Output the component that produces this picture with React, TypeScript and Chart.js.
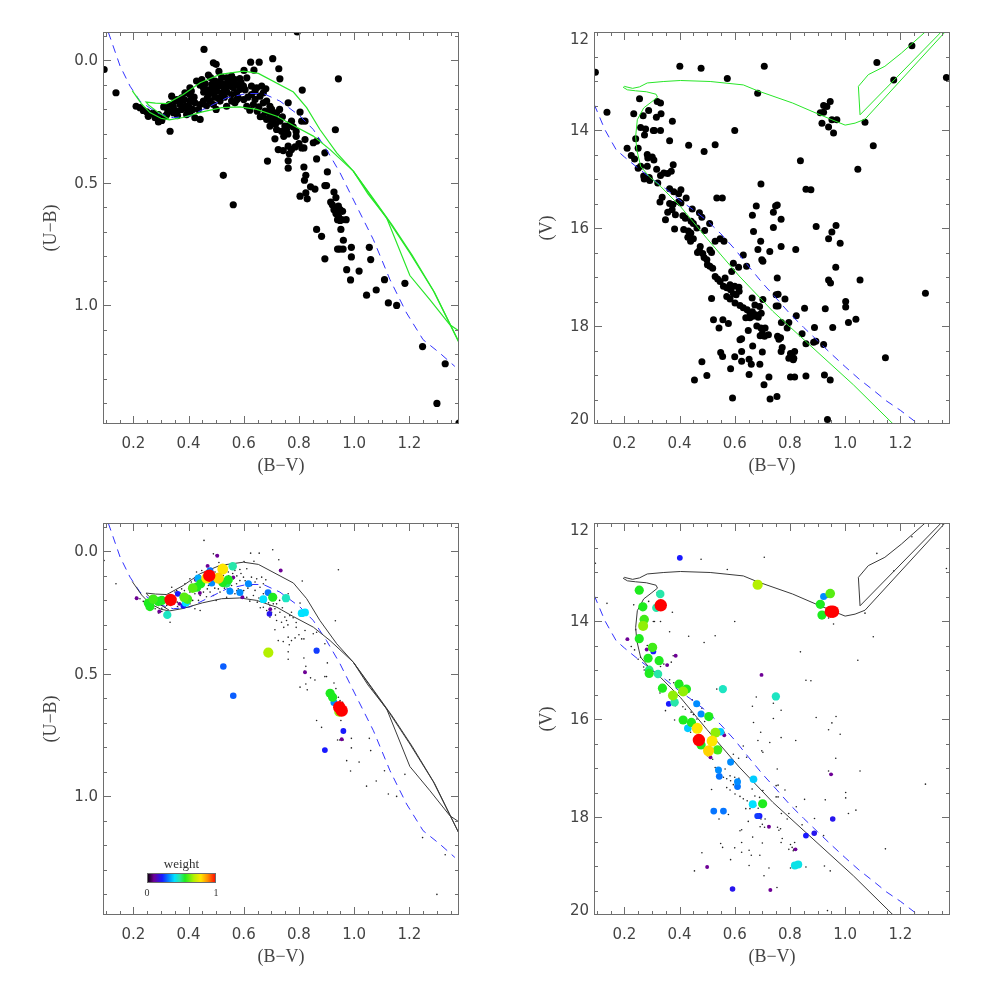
import React, { useEffect, useRef } from 'react';
import { Chart, registerables } from 'chart.js';
Chart.register(...registerables);

type P2 = [number, number];
type P3 = [number, number, number];

// ---------------- axis ranges & tick labels ----------------
const X_MIN = 0.09, X_MAX = 1.38;
const UB_MIN = -0.116, UB_MAX = 1.484;
const V_MIN = 12, V_MAX = 20;
const X_TICK_LABELS = [0.2, 0.4, 0.6, 0.8, 1.0, 1.2];
const UB_TICK_LABELS = [0.0, 0.5, 1.0];
const V_TICK_LABELS = [12, 14, 16, 18, 20];

// ---------------- (U-B) vs (B-V) stars ----------------
const UB_STARS: P2[] = [
  [0.094,0.037],[0.137,0.132],[0.794,-0.116],[0.456,-0.045],[0.49,0.01],[0.5,0.016],[0.625,0.007],[0.656,0.007],
  [0.705,-0.007],[0.727,0.034],[0.637,0.04],[0.731,0.075],[0.943,0.075],[0.812,0.121],[0.761,0.173],[0.804,0.211],
  [0.932,0.283],[0.526,0.469],[0.562,0.589],[0.686,0.411],
  [0.21,0.187],[0.224,0.193],[0.236,0.204],[0.248,0.21],[0.26,0.218],[0.272,0.215],[0.254,0.228],[0.279,0.234],
  [0.303,0.232],[0.321,0.221],[0.291,0.221],[0.303,0.245],[0.333,0.289],[0.291,0.251],[0.315,0.228],[0.33,0.18],
  [0.339,0.146],[0.351,0.166],[0.357,0.16],[0.369,0.18],[0.375,0.153],[0.387,0.132],[0.405,0.139],[0.387,0.187],
  [0.396,0.2],[0.375,0.2],[0.359,0.207],[0.345,0.214],[0.405,0.166],[0.423,0.173],[0.436,0.2],[0.423,0.234],
  [0.442,0.241],[0.405,0.214],[0.393,0.221],[0.405,0.112],[0.429,0.084],[0.442,0.101],[0.448,0.078],[0.454,0.112],
  [0.472,0.06],[0.468,0.153],[0.478,0.166],[0.49,0.18],[0.454,0.166],[0.442,0.18],[0.472,0.139],[0.49,0.132],
  [0.502,0.125],[0.52,0.132],[0.538,0.128],[0.556,0.139],[0.574,0.132],[0.586,0.119],[0.599,0.105],[0.508,0.153],
  [0.496,0.084],[0.484,0.098],[0.508,0.105],[0.526,0.098],[0.55,0.105],[0.562,0.112],[0.52,0.068],[0.538,0.071],
  [0.556,0.064],[0.568,0.078],[0.544,0.084],[0.586,0.074],[0.601,0.041],[0.538,0.187],[0.568,0.173],[0.58,0.153],
  [0.611,0.187],[0.611,0.071],[0.514,0.166],[0.556,0.166],[0.51,0.045],[0.48,0.07],
  [0.31,0.19],[0.325,0.205],[0.345,0.19],[0.36,0.225],[0.37,0.17],[0.385,0.16],[0.4,0.185],[0.415,0.2],
  [0.42,0.15],[0.41,0.125],[0.455,0.13],[0.46,0.095],[0.47,0.12],[0.485,0.115],[0.495,0.15],[0.5,0.1],
  [0.515,0.085],[0.53,0.115],[0.545,0.1],[0.56,0.09],[0.575,0.1],[0.59,0.09],[0.605,0.12],[0.615,0.15],
  [0.6,0.16],[0.575,0.16],[0.53,0.15],[0.465,0.185],[0.5,0.2],
  [0.622,0.203],[0.628,0.139],[0.628,0.105],[0.641,0.125],[0.641,0.159],[0.647,0.112],[0.649,0.207],[0.659,0.146],
  [0.665,0.105],[0.671,0.132],[0.671,0.173],[0.677,0.207],[0.68,0.116],[0.683,0.166],[0.695,0.187],[0.701,0.2],
  [0.671,0.228],[0.683,0.241],[0.695,0.221],[0.707,0.214],[0.719,0.214],[0.701,0.248],[0.713,0.234],[0.731,0.248],
  [0.749,0.268],[0.767,0.262],[0.779,0.271],[0.719,0.282],[0.737,0.289],[0.755,0.282],[0.695,0.268],[0.773,0.248],
  [0.635,0.18],[0.655,0.19],[0.66,0.23],[0.69,0.21],[0.715,0.26],[0.74,0.23],[0.76,0.3],[0.79,0.29],
  [0.79,0.31],[0.8,0.34],[0.745,0.31],[0.73,0.2],
  [0.725,0.364],[0.743,0.368],[0.761,0.35],[0.773,0.364],[0.786,0.353],[0.81,0.357],[0.818,0.357],[0.765,0.381],
  [0.761,0.41],[0.761,0.44],[0.713,0.32],[0.822,0.248],[0.81,0.248],[0.822,0.323],[0.864,0.33],[0.852,0.336],
  [0.864,0.402],[0.894,0.377],[0.903,0.455],[0.818,0.435],[0.825,0.469],[0.82,0.489],[0.842,0.516],[0.858,0.525],
  [0.804,0.554],[0.825,0.541],[0.83,0.565],[0.894,0.511],[0.9,0.511],[0.927,0.537],[0.934,0.56],
  [0.915,0.578],[0.921,0.589],[0.943,0.595],[0.927,0.609],[0.949,0.609],[0.958,0.616],[0.934,0.625],[0.943,0.634],
  [0.955,0.65],[0.971,0.65],[0.94,0.65],[0.949,0.653],[0.952,0.69],[0.961,0.734],[0.864,0.69],[0.882,0.718],
  [0.94,0.77],[0.948,0.77],[0.96,0.77],[0.99,0.763],[1.055,0.763],[0.894,0.81],[0.99,0.802],[1.06,0.813],
  [0.973,0.854],[0.987,0.896],[1.018,0.86],[1.11,0.895],[1.045,0.958],[1.08,0.937],[1.124,0.99],[1.154,1.0],
  [1.184,0.91],[1.248,1.168],[1.33,1.238],[1.3,1.4],[1.38,1.48]
];

// ---------------- V vs (B-V) stars ----------------
const V_STARS: P2[] = [
  [0.095,12.82],[0.137,13.64],[0.401,12.70],[0.478,12.74],[0.573,12.95],[0.707,12.70],[0.683,13.25],[1.242,12.28],
  [1.115,12.62],[1.176,12.98],[1.367,12.93],[1.072,13.84],[1.102,14.32],[1.046,14.80],[0.838,14.63],[0.6,14.01],
  [0.433,14.31],[0.529,14.30],[0.489,14.44],[0.695,15.1],[0.858,15.21],[0.876,15.22],
  [0.922,13.5],[0.934,13.52],[0.946,13.42],[0.91,13.65],[0.922,13.64],[0.952,13.79],[0.97,13.79],[0.94,13.94],
  [0.916,13.86],[0.958,14.06],
  [0.255,13.36],[0.319,13.42],[0.331,13.45],[0.234,13.67],[0.268,13.71],[0.288,13.60],[0.316,13.74],[0.333,13.67],
  [0.374,13.82],[0.259,13.95],[0.277,13.98],[0.273,14.1],[0.305,14.01],[0.309,14.01],[0.331,14.01],[0.241,14.18],
  [0.364,14.22],[0.21,14.37],[0.25,14.37],[0.225,14.52],[0.237,14.59],[0.283,14.50],[0.285,14.57],[0.301,14.55],
  [0.307,14.61],[0.25,14.78],[0.259,14.74],[0.283,14.74],[0.317,14.80],[0.343,14.88],[0.37,14.84],[0.377,14.71],
  [0.27,14.94],[0.272,15.0],[0.29,14.97],[0.292,15.03],[0.321,15.08],[0.331,14.93],[0.357,14.89],[0.364,15.2],
  [0.379,15.26],[0.337,15.37],[0.329,15.47],[0.397,15.30],[0.405,15.22],[0.424,15.39],[0.364,15.50],[0.376,15.52],
  [0.397,15.46],[0.405,15.49],[0.357,15.68],[0.373,15.63],[0.385,15.73],[0.349,15.83],[0.412,15.75],[0.421,15.80],
  [0.446,15.61],[0.472,15.69],[0.481,15.78],[0.442,15.86],[0.45,15.91],[0.509,15.91],[0.415,16.03],[0.432,16.06],
  [0.441,16.1],[0.382,16.02],[0.463,16.0],[0.491,16.05],[0.535,15.39],[0.555,15.39],
  [0.43,16.19],[0.45,16.22],[0.44,16.27],[0.475,16.38],[0.472,16.46],[0.465,16.5],[0.484,16.52],[0.489,16.6],
  [0.499,16.65],[0.51,16.45],[0.516,16.5],[0.529,16.27],[0.547,16.22],[0.561,16.27],[0.501,16.75],[0.51,16.78],
  [0.52,16.82],[0.529,16.99],[0.538,17.04],[0.547,17.09],[0.559,17.19],[0.571,17.22],[0.585,17.26],[0.565,17.02],
  [0.589,16.89],[0.595,16.72],[0.614,16.80],[0.631,16.55],[0.643,16.78],[0.583,17.16],[0.6,17.19],[0.615,17.21],
  [0.595,17.34],[0.605,17.36],[0.616,17.29],[0.516,17.44],[0.571,17.40],[0.583,17.45],[0.601,17.53],[0.619,17.58],
  [0.631,17.63],[0.645,17.67],[0.655,17.73],[0.664,17.71],[0.676,17.77],[0.685,17.82],[0.64,17.83],[0.655,17.83],
  [0.666,17.80],[0.69,17.6],[0.696,17.74],[0.702,17.46],[0.663,17.43],[0.673,17.57],[0.523,17.87],[0.557,17.87],
  [0.577,17.95],[0.543,18.04],[0.68,18.0],[0.695,18.04],[0.71,18.04],[0.7,18.15],[0.722,18.18],[0.708,18.21],
  [0.692,18.2],[0.649,18.09],[0.625,18.26],[0.619,18.28],[0.665,18.41],[0.70,18.53],[0.549,18.54],[0.556,18.62],
  [0.481,18.73],[0.6,18.63],[0.625,18.52],[0.625,18.72],[0.652,18.68],[0.66,18.78],[0.691,18.78],[0.499,19.01],
  [0.454,19.1],[0.592,19.47],[0.728,19.49],[0.585,18.87],[0.652,18.99],
  [0.748,15.55],[0.754,15.53],[0.740,15.68],[0.768,15.82],[0.678,15.55],[0.664,15.74],[0.668,16.07],[0.694,16.27],
  [0.684,16.44],[0.727,16.48],[0.768,16.38],[0.821,16.44],[0.698,16.65],[0.702,16.68],[0.895,15.97],[0.967,15.95],
  [0.952,16.08],[0.94,16.22],[0.982,16.31],[0.966,16.80],[0.94,17.06],[0.947,17.12],[1.054,17.06],[0.754,17.02],
  [0.75,17.36],[0.757,17.35],[0.782,17.45],[0.75,17.59],[0.757,17.59],[0.853,17.64],[0.928,17.65],[0.823,17.79],
  [0.769,17.93],[0.796,17.93],[0.79,18.04],[1.002,17.50],[1.002,17.61],[1.012,17.93],[1.039,17.86],[0.955,18.03],
  [1.291,17.33],[0.844,18.16],[0.889,18.03],[0.894,18.31],[0.886,18.33],[0.922,18.38],[0.858,18.36],[0.755,18.21],
  [0.76,18.27],[0.766,18.24],[0.772,18.44],[0.768,18.52],[0.802,18.56],[0.808,18.62],[0.814,18.66],[0.817,18.52],
  [0.796,18.66],[0.812,18.69],[1.146,18.65],[0.858,19.02],[0.925,19.0],[0.946,19.1],[0.802,19.04],[0.817,19.04],
  [0.724,19.04],[0.706,19.2],[0.753,19.44],[0.936,19.91],[0.74,15.99]
];

// ---------------- weighted members [B-V, U-B, weight] ----------------
const UB_WEIGHTED: P3[] = [
  [0.212,0.191,0.1],[0.254,0.211,0.55],[0.26,0.225,0.55],[0.272,0.195,0.58],[0.29,0.204,0.55],[0.303,0.2,0.55],
  [0.323,0.259,0.45],[0.335,0.198,1.0],[0.294,0.245,0.1],[0.361,0.173,0.22],[0.381,0.222,0.22],[0.384,0.187,0.6],
  [0.396,0.195,0.58],[0.39,0.209,0.4],[0.367,0.214,0.1],[0.415,0.15,0.6],[0.43,0.146,0.55],[0.444,0.132,0.55],
  [0.435,0.109,0.35],[0.441,0.17,0.1],[0.426,0.116,0.1],[0.469,0.059,0.1],[0.472,0.089,0.35],[0.478,0.078,0.3],
  [0.466,0.109,0.78],[0.475,0.099,1.0],[0.484,0.129,0.32],[0.504,0.018,0.1],[0.508,0.109,0.8],[0.524,0.072,0.78],
  [0.524,0.127,0.55],[0.544,0.116,0.55],[0.538,0.13,0.5],[0.56,0.061,0.47],[0.55,0.163,0.32],[0.562,0.106,0.1],
  [0.586,0.168,0.32],[0.595,0.187,0.1],[0.617,0.132,0.32],[0.671,0.195,0.4],[0.688,0.168,0.3],[0.705,0.187,0.55],
  [0.693,0.255,0.2],[0.696,0.236,0.1],[0.734,0.078,0.1],[0.753,0.191,0.45],[0.81,0.252,0.4],[0.822,0.249,0.4],
  [0.864,0.405,0.25],[0.689,0.413,0.68],[0.526,0.47,0.28],[0.562,0.589,0.28],[0.822,0.493,0.1],[0.913,0.579,0.55],
  [0.922,0.595,0.55],[0.927,0.617,0.32],[0.946,0.654,0.65],[0.946,0.636,1.0],[0.955,0.65,1.0],[0.961,0.733,0.22],
  [0.955,0.767,0.1],[0.894,0.811,0.22]
];

// ---------------- weighted members [B-V, V, weight] ----------------
const V_WEIGHTED: P3[] = [
  [0.401,12.71,0.22],[0.683,13.26,0.68],[0.254,13.37,0.55],[0.33,13.45,0.47],[0.267,13.71,0.55],[0.316,13.73,0.47],
  [0.332,13.68,1.0],[0.272,13.97,0.58],[0.268,14.1,0.65],[0.254,14.36,0.55],[0.302,14.54,0.58],[0.305,14.62,0.22],
  [0.286,14.76,0.55],[0.326,14.81,0.55],[0.29,15.0,0.5],[0.29,15.07,0.55],[0.322,15.08,0.47],[0.338,15.37,0.55],
  [0.398,15.29,0.55],[0.425,15.39,0.55],[0.413,15.44,0.65],[0.376,15.52,0.65],[0.382,15.66,0.47],[0.361,15.69,0.22],
  [0.462,15.69,0.32],[0.478,15.90,0.32],[0.413,16.02,0.55],[0.443,16.07,0.55],[0.506,15.95,0.55],[0.43,16.19,0.38],
  [0.464,16.19,0.78],[0.548,16.26,0.38],[0.53,16.28,0.65],[0.47,16.43,1.0],[0.518,16.45,0.78],[0.478,16.53,0.55],
  [0.538,16.63,0.58],[0.505,16.65,0.8],[0.512,16.78,0.1],[0.557,15.39,0.45],[0.562,16.33,0.1],[0.585,16.88,0.32],
  [0.541,17.04,0.32],[0.544,17.17,0.3],[0.61,17.28,0.32],[0.61,17.38,0.3],[0.668,17.23,0.38],[0.697,15.1,0.1],
  [0.749,15.54,0.45],[0.665,17.74,0.4],[0.701,17.73,0.55],[0.682,17.98,0.25],[0.69,17.98,0.22],[0.524,17.88,0.3],
  [0.559,17.88,0.3],[0.724,18.2,0.1],[0.858,18.38,0.22],[0.888,18.33,0.2],[0.955,18.04,0.2],[0.949,17.13,0.1],
  [0.82,18.66,0.1],[0.818,18.99,0.42],[0.83,18.97,0.42],[0.5,19.02,0.1],[0.592,19.47,0.2],[0.729,19.49,0.1],
  [0.922,13.5,0.32],[0.946,13.44,0.6],[0.91,13.66,0.55],[0.916,13.88,0.55],[0.948,13.81,1.0],[0.956,13.81,1.0],
  [0.211,14.37,0.1],[0.386,14.71,0.1],[0.355,14.9,0.1],[0.281,14.58,0.1]
];

// ---------------- isochrones & ZAMS ----------------
const UB_ISO_LOWER: P2[] = [
  [0.196,0.123],[0.23,0.178],[0.26,0.213],[0.3,0.236],[0.33,0.243],[0.38,0.233],[0.45,0.21],[0.52,0.193],
  [0.586,0.19],[0.647,0.2],[0.72,0.228],[0.78,0.266],[0.852,0.309],[0.913,0.364],[0.997,0.452],[1.05,0.545],
  [1.118,0.643],[1.202,0.878],[1.275,0.977],[1.347,1.079],[1.38,1.104]
];
const UB_ISO_UPPER: P2[] = [
  [0.33,0.24],[0.29,0.212],[0.255,0.182],[0.246,0.17],[0.28,0.174],[0.321,0.176],[0.381,0.139],[0.442,0.091],
  [0.514,0.057],[0.599,0.044],[0.653,0.053],[0.78,0.129],[0.828,0.193],[0.876,0.282],[0.937,0.377],[0.997,0.452],
  [1.062,0.556],[1.13,0.663],[1.202,0.786],[1.287,0.94],[1.38,1.151]
];
const UB_ISO_TWIN: P2[] = [
  [0.997,0.452],[1.068,0.562],[1.138,0.672],[1.21,0.795],[1.292,0.948],[1.38,1.151]
];
const UB_ZAMS: P2[] = [
  [0.109,-0.116],[0.152,0.023],[0.188,0.105],[0.224,0.166],[0.285,0.214],[0.345,0.234],[0.405,0.227],[0.466,0.193],
  [0.538,0.153],[0.611,0.135],[0.671,0.135],[0.731,0.166],[0.804,0.227],[0.852,0.282],[0.9,0.364],[0.949,0.459],
  [1.009,0.595],[1.07,0.732],[1.13,0.895],[1.19,1.031],[1.25,1.14],[1.311,1.195],[1.365,1.249]
];
const V_ISO_MAIN: P2[] = [
  [1.174,20.0],[1.03,19.2],[0.88,18.43],[0.738,17.7],[0.616,16.98],[0.5,16.22],[0.403,15.56],[0.331,15.15],
  [0.29,14.95],[0.259,14.74],[0.245,14.4],[0.241,14.13],[0.247,13.79],[0.27,13.55],[0.3,13.42],[0.32,13.33],
  [0.315,13.27],[0.28,13.22],[0.241,13.2],[0.211,13.18],[0.196,13.13],[0.2,13.11],[0.23,13.15],[0.255,13.12],
  [0.283,13.04],[0.343,13.01],[0.403,12.99],[0.511,13.01],[0.631,13.08],[0.683,13.2],[0.81,13.45],[0.88,13.62],
  [0.952,13.79],[1.0,13.9],[1.036,13.86],[1.072,13.78],[1.362,12.0]
];
const V_ISO_RGB2: P2[] = [[1.054,13.69],[1.348,12.0]];
const V_ISO_LOOP: P2[] = [[1.054,13.69],[1.048,13.11],[1.084,12.87],[1.144,12.7],[1.204,12.43],[1.29,12.0]];
const V_ZAMS: P2[] = [
  [0.091,13.48],[0.13,14.0],[0.17,14.4],[0.2,14.55],[0.25,14.78],[0.3,15.0],[0.35,15.2],[0.4,15.43],[0.45,15.63],
  [0.5,15.85],[0.55,16.12],[0.6,16.43],[0.65,16.78],[0.7,17.12],[0.75,17.43],[0.8,17.75],[0.85,18.03],[0.9,18.3],
  [0.95,18.57],[1.0,18.83],[1.05,19.08],[1.1,19.3],[1.15,19.53],[1.2,19.72],[1.258,19.97]
];

// ---------------- colours ----------------
const STOPS: [number, number[]][] = [
  [0, [0, 0, 0]], [0.1, [110, 0, 150]], [0.22, [25, 25, 255]], [0.32, [0, 140, 255]], [0.4, [0, 225, 255]],
  [0.47, [40, 230, 170]], [0.55, [30, 235, 30]], [0.68, [180, 240, 0]], [0.78, [255, 230, 0]],
  [0.88, [255, 140, 0]], [1, [255, 0, 0]]
];
function weightColor(w: number): string {
  for (let i = 1; i < STOPS.length; i++) {
    if (w <= STOPS[i][0]) {
      const [a, ca] = STOPS[i - 1];
      const [b, cb] = STOPS[i];
      const t = (w - a) / (b - a);
      const c = ca.map((v, k) => Math.round(v + (cb[k] - v) * t));
      return `rgb(${c[0]},${c[1]},${c[2]})`;
    }
  }
  return 'rgb(255,0,0)';
}

const GREEN = 'rgb(40,230,40)';
const BLUE = 'rgb(50,50,255)';
const BLACK_LINE = '#3a3a3a';
const FRAME = '#6e6e6e';
const TEXT = '#444';

const pts = (arr: P2[] | P3[]) => (arr as number[][]).map((p) => ({ x: p[0], y: p[1] }));

function lineDs(arr: P2[], color: string, dashed = false, width = 1) {
  return {
    data: pts(arr), showLine: true, borderColor: color, borderWidth: width,
    borderDash: dashed ? [8, 6] : [], pointRadius: 0, fill: false, tension: 0,
  };
}
function starDs(arr: P2[], r: number, color: string) {
  return { data: pts(arr), showLine: false, pointRadius: r, pointBackgroundColor: color, pointBorderWidth: 0, pointHoverRadius: r };
}
function weightedDs(arr: P3[]) {
  const sorted = [...arr].sort((a, b) => a[2] - b[2]);
  return {
    data: pts(sorted), showLine: false,
    pointRadius: sorted.map((p) => 6.2 * Math.sqrt(p[2])),
    pointBackgroundColor: sorted.map((p) => weightColor(p[2])),
    pointBorderWidth: 0,
  };
}

interface AxisSpec {
  yTitle: string; yLabels: number[]; yDecimals: number;
  yMinorFrom: number; yMinorTo: number; yMinorStep: number; titleOffset: number; colorbar?: boolean;
}

function axesPlugin(spec: AxisSpec) {
  return {
    id: 'idlAxes',
    afterDraw(chart: any) {
      const { ctx, chartArea: a } = chart;
      const xs = chart.scales.x, ys = chart.scales.y;
      ctx.save();
      ctx.strokeStyle = FRAME;
      ctx.lineWidth = 1;
      ctx.setLineDash([]);
      ctx.strokeRect(a.left + 0.5, a.top + 0.5, a.right - a.left - 1, a.bottom - a.top - 1);
      ctx.beginPath();
      for (let i = 0; i < 40; i++) {
        const v = 0.1 + i * 0.05;
        if (v > X_MAX) break;
        const px = Math.round(xs.getPixelForValue(v)) + 0.5;
        const major = X_TICK_LABELS.some((t) => Math.abs(t - v) < 1e-6);
        const len = major ? 8 : 4;
        ctx.moveTo(px, a.bottom); ctx.lineTo(px, a.bottom - len);
        ctx.moveTo(px, a.top); ctx.lineTo(px, a.top + len);
      }
      for (let v = spec.yMinorFrom; v <= spec.yMinorTo + 1e-6; v += spec.yMinorStep) {
        const py = Math.round(ys.getPixelForValue(v)) + 0.5;
        const major = spec.yLabels.some((t) => Math.abs(t - v) < 1e-6);
        const len = major ? 8 : 4;
        ctx.moveTo(a.left, py); ctx.lineTo(a.left + len, py);
        ctx.moveTo(a.right, py); ctx.lineTo(a.right - len, py);
      }
      ctx.stroke();

      ctx.fillStyle = TEXT;
      ctx.font = '15px "DejaVu Sans"';
      ctx.textAlign = 'center';
      ctx.textBaseline = 'middle';
      X_TICK_LABELS.forEach((v) => {
        ctx.fillText(v.toFixed(1), xs.getPixelForValue(v), a.bottom + 20);
      });
      ctx.textAlign = 'right';
      spec.yLabels.forEach((v) => {
        let py = ys.getPixelForValue(v);
        py = Math.min(Math.max(py, a.top + 7), a.bottom - 5);
        ctx.fillText(v.toFixed(spec.yDecimals), a.left - 5, py + 1);
      });

      ctx.font = '18px "Liberation Serif"';
      ctx.textAlign = 'center';
      ctx.fillText('(B\u2212V)', (a.left + a.right) / 2, a.bottom + 42);
      ctx.save();
      ctx.translate(a.left - spec.titleOffset, (a.top + a.bottom) / 2);
      ctx.rotate(-Math.PI / 2);
      ctx.fillText(spec.yTitle, 0, 0);
      ctx.restore();

      if (spec.colorbar) {
        const x0 = a.left + 44, y0 = a.top + 350, w = 69, h = 10;
        const g = ctx.createLinearGradient(x0, 0, x0 + w, 0);
        STOPS.forEach(([s, c]) => g.addColorStop(s, `rgb(${c[0]},${c[1]},${c[2]})`));
        ctx.fillStyle = g;
        ctx.fillRect(x0, y0, w, h);
        ctx.strokeStyle = FRAME;
        ctx.strokeRect(x0 + 0.5, y0 + 0.5, w - 1, h - 1);
        ctx.fillStyle = '#333';
        ctx.font = '13px "Liberation Serif"';
        ctx.textAlign = 'center';
        ctx.fillText('weight', x0 + w / 2, y0 - 8);
        ctx.font = '10px "Liberation Serif"';
        ctx.fillText('0', x0, y0 + h + 10);
        ctx.fillText('1', x0 + w, y0 + h + 10);
      }
      ctx.restore();
    },
  };
}

function makeConfig(datasets: any[], yMin: number, yMax: number, padding: any, spec: AxisSpec) {
  return {
    type: 'scatter' as const,
    data: { datasets },
    options: {
      responsive: false,
      animation: false as const,
      events: [] as any[],
      layout: { padding, autoPadding: false },
      plugins: { legend: { display: false }, tooltip: { enabled: false } },
      scales: {
        x: { type: 'linear' as const, min: X_MIN, max: X_MAX, display: false },
        y: { type: 'linear' as const, min: yMin, max: yMax, reverse: true, display: false },
      },
    },
    plugins: [axesPlugin(spec)],
  };
}

const UB_SPEC: AxisSpec = { yTitle: '(U\u2212B)', yLabels: UB_TICK_LABELS, yDecimals: 1, yMinorFrom: -0.1, yMinorTo: 1.4, yMinorStep: 0.1, titleOffset: 52 };
const V_SPEC: AxisSpec = { yTitle: '(V)', yLabels: V_TICK_LABELS, yDecimals: 0, yMinorFrom: 12.5, yMinorTo: 19.5, yMinorStep: 0.5, titleOffset: 47 };

function Panel({ left, top, width, height, build }: { left: number; top: number; width: number; height: number; build: () => any }) {
  const ref = useRef<HTMLCanvasElement>(null);
  useEffect(() => {
    const chart = new Chart(ref.current as HTMLCanvasElement, build());
    return () => chart.destroy();
  }, []);
  return <canvas ref={ref} width={width} height={height} style={{ position: 'absolute', left, top, width, height }} />;
}

export default function App() {
  const topPad = (l: number, r: number) => ({ left: l, right: r, top: 32, bottom: 66 });
  const botPad = (l: number, r: number) => ({ left: l, right: r, top: 33, bottom: 66 });
  return (
    <div style={{ position: 'absolute', left: 0, top: 0, width: 981, height: 981, background: '#fff' }}>
      <Panel left={0} top={0} width={490} height={490} build={() => makeConfig([
        lineDs(UB_ISO_LOWER, GREEN, false, 1.2), lineDs(UB_ISO_UPPER, GREEN, false, 1.2), lineDs(UB_ISO_TWIN, GREEN, false, 1.2),
        lineDs(UB_ZAMS, BLUE, true), starDs(UB_STARS, 3.6, '#000'),
      ], UB_MIN, UB_MAX, topPad(103, 31), UB_SPEC)} />
      <Panel left={490} top={0} width={491} height={490} build={() => makeConfig([
        lineDs(V_ISO_MAIN, GREEN), lineDs(V_ISO_RGB2, GREEN), lineDs(V_ISO_LOOP, GREEN),
        lineDs(V_ZAMS, BLUE, true), starDs(V_STARS, 3.5, '#000'),
      ], V_MIN, V_MAX, topPad(104, 31), V_SPEC)} />
      <Panel left={0} top={490} width={490} height={491} build={() => makeConfig([
        weightedDs(UB_WEIGHTED),
        lineDs(UB_ISO_LOWER, BLACK_LINE), lineDs(UB_ISO_UPPER, BLACK_LINE), lineDs(UB_ISO_TWIN, BLACK_LINE),
        lineDs(UB_ZAMS, BLUE, true), starDs(UB_STARS, 0.8, '#222'),
      ], UB_MIN, UB_MAX, botPad(103, 31), { ...UB_SPEC, colorbar: true })} />
      <Panel left={490} top={490} width={491} height={491} build={() => makeConfig([
        weightedDs(V_WEIGHTED),
        lineDs(V_ISO_MAIN, BLACK_LINE), lineDs(V_ISO_RGB2, BLACK_LINE), lineDs(V_ISO_LOOP, BLACK_LINE),
        lineDs(V_ZAMS, BLUE, true), starDs(V_STARS, 0.8, '#222'),
      ], V_MIN, V_MAX, botPad(104, 31), V_SPEC)} />
    </div>
  );
}
